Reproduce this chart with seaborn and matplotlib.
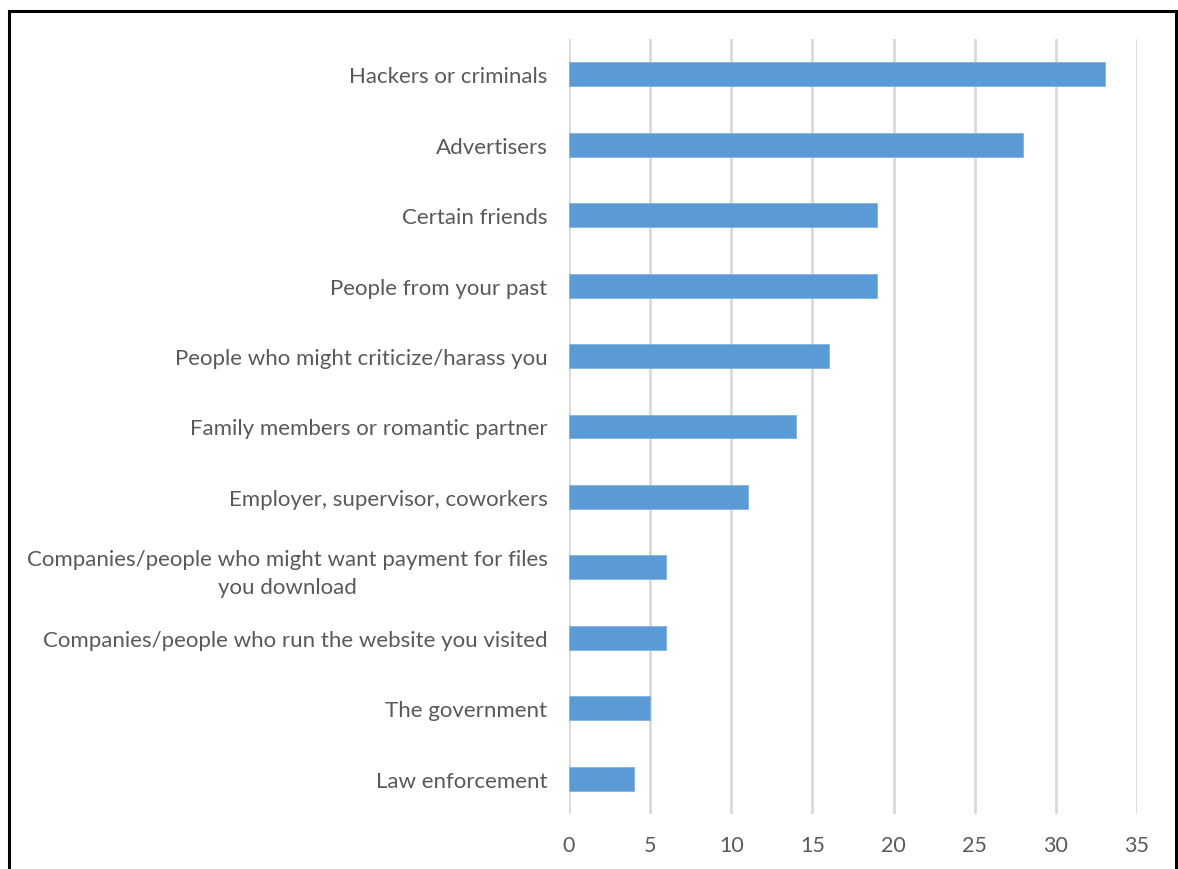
import matplotlib
matplotlib.use("Agg")
import matplotlib.pyplot as plt
import seaborn as sns
import pandas as pd
from matplotlib.patches import Rectangle

categories = [
    "Hackers or criminals",
    "Advertisers",
    "Certain friends",
    "People from your past",
    "People who might criticize/harass you",
    "Family members or romantic partner",
    "Employer, supervisor, coworkers",
    "Companies/people who might want payment for files\nyou download",
    "Companies/people who run the website you visited",
    "The government",
    "Law enforcement",
]
values = [33, 28, 19, 19, 16, 14, 11, 6, 6, 5, 4]
xticks = [0, 5, 10, 15, 20, 25, 30, 35]

df = pd.DataFrame({"category": categories, "value": values})

sns.set_theme(style="white")
plt.rcParams['font.family'] = ['Lato', 'DejaVu Sans']

fig = plt.figure(figsize=(11.78, 8.70), dpi=100)
W, H = 1178, 870
ax = fig.add_axes([569 / W, 1 - 815 / H, (1137 - 569) / W, (815 - 40) / H])

sns.barplot(data=df, x="value", y="category", color="#5B9BD5", saturation=1,
            width=0.34, ax=ax, zorder=3, edgecolor="#7fb2e0", linewidth=0.6)

ax.set_xlim(0, 35)
ax.set_ylim(len(categories) - 0.5, -0.5)
ax.set_xticks(xticks)
ax.set_xticklabels([str(t) for t in xticks])
ax.xaxis.grid(True, color="#d9d9d9", linewidth=2.0, zorder=0)
ax.set_axisbelow(True)
ax.set_xlabel("")
ax.set_ylabel("")
for s in ax.spines.values():
    s.set_visible(False)
ax.tick_params(axis="y", length=0, labelsize=16, colors="#595959", pad=15.5)
ax.tick_params(axis="x", length=0, labelsize=15.5, colors="#595959", pad=15)
for lbl in ax.get_yticklabels():
    lbl.set_multialignment("center")
    lbl.set_linespacing(1.45)

# outer border
fig.patches.append(Rectangle((9 / W, -0.05), (1176 - 9) / W, 1 - 12 / H + 0.05,
                             transform=fig.transFigure, fill=False,
                             edgecolor="black", linewidth=2.2, clip_on=False))

fig.savefig("out.png", dpi=100)
